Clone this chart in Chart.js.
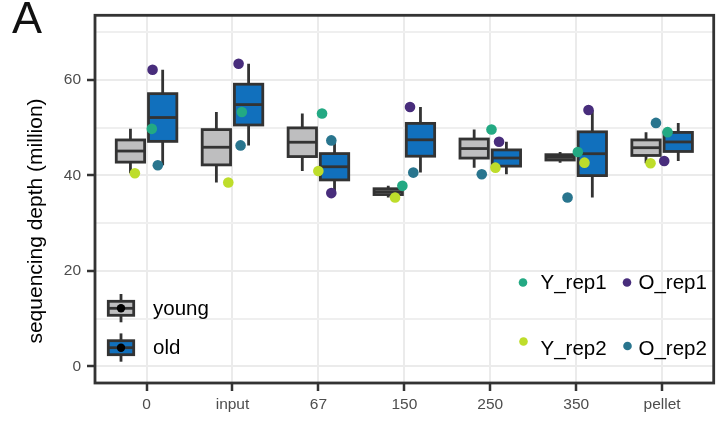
<!DOCTYPE html>
<html>
<head>
<meta charset="utf-8">
<script src="https://cdn.jsdelivr.net/npm/chart.js@4/dist/chart.umd.min.js"></script>
<style>
  html, body { margin: 0; padding: 0; background: #ffffff; }
  #wrap { width: 719px; height: 423px; position: relative; }
</style>
</head>
<body>
<div id="wrap"><canvas id="chart" width="719" height="423"></canvas></div>
<script>
// Fractions (x axis) and sequencing depth in millions per replicate
const categories = ['0', 'input', '67', '150', '250', '350', 'pellet'];
const Y_rep1 = [49.72, 53.26, 52.93, 37.79, 49.59, 44.87, 49.03];
const Y_rep2 = [40.43, 38.48, 40.91, 35.35, 41.60, 42.64, 42.52];
const O_rep1 = [62.09, 63.34, 36.27, 54.30, 47.01, 53.68, 42.99];
const O_rep2 = [42.10, 46.26, 47.30, 40.56, 40.22, 35.35, 50.97];

// Horizontal jitter of each replicate point, in category units
const jitter_Y_rep1 = [0.061, 0.109, 0.042, -0.023, 0.014, 0.019, 0.063];
const jitter_Y_rep2 = [-0.136, -0.049, -0.001, -0.108, 0.060, 0.096, -0.135];
const jitter_O_rep1 = [0.070, 0.071, 0.150, 0.066, 0.102, 0.143, 0.024];
const jitter_O_rep2 = [0.131, 0.094, 0.150, 0.104, -0.099, -0.101, -0.072];

const yMajorTicks = [0, 20, 40, 60];
const yMinorTicks = [10, 30, 50, 70];

const FONT = "'Liberation Sans', Arial, Helvetica, sans-serif";
const LINE = '#333333';
const LINE_W = 2.8;
const GROUPS = [
  { name: 'young', fill: '#BEBEBF', offset: -0.1875, reps: [Y_rep1, Y_rep2] },
  { name: 'old',   fill: '#1170BD', offset:  0.1875, reps: [O_rep1, O_rep2] }
];
const BOX_HALF = 0.165;
const REP_COLORS = { Y_rep1: '#23A983', O_rep1: '#482D7C', Y_rep2: '#BEDD2B', O_rep2: '#29758E' };

// type-7 quantile, as used by R's boxplot stats
function quantile(sorted, p) {
  const h = (sorted.length - 1) * p;
  const lo = Math.floor(h), hi = Math.ceil(h);
  return sorted[lo] + (h - lo) * (sorted[hi] - sorted[lo]);
}
function boxStats(vals) {
  const s = [...vals].sort((a, b) => a - b);
  const q1 = quantile(s, 0.25), med = quantile(s, 0.5), q3 = quantile(s, 0.75);
  const iqr = q3 - q1;
  const lo = s.find(v => v >= q1 - 1.5 * iqr);
  const hi = [...s].reverse().find(v => v <= q3 + 1.5 * iqr);
  return { q1, med, q3, lo, hi };
}

// Box-and-whisker layer drawn under the replicate points
const boxPlugin = {
  id: 'boxes',
  beforeDatasetsDraw(chart) {
    const { ctx, scales: { x, y } } = chart;
    ctx.save();
    ctx.lineWidth = LINE_W;
    ctx.strokeStyle = LINE;
    ctx.lineCap = 'butt';
    categories.forEach((_, i) => {
      GROUPS.forEach(g => {
        const st = boxStats(g.reps.map(r => r[i]));
        const cx = x.getPixelForValue(i + g.offset);
        const left = x.getPixelForValue(i + g.offset - BOX_HALF);
        const right = x.getPixelForValue(i + g.offset + BOX_HALF);
        const yq1 = y.getPixelForValue(st.q1), yq3 = y.getPixelForValue(st.q3);
        const ymed = y.getPixelForValue(st.med);
        // whiskers
        ctx.beginPath();
        ctx.moveTo(cx, y.getPixelForValue(st.hi));
        ctx.lineTo(cx, yq3);
        ctx.moveTo(cx, yq1);
        ctx.lineTo(cx, y.getPixelForValue(st.lo));
        ctx.stroke();
        // box
        ctx.fillStyle = g.fill;
        ctx.fillRect(left, yq3, right - left, yq1 - yq3);
        ctx.strokeRect(left, yq3, right - left, yq1 - yq3);
        // median
        ctx.beginPath();
        ctx.moveTo(left, ymed);
        ctx.lineTo(right, ymed);
        ctx.stroke();
      });
    });
    ctx.restore();
  }
};

// Panel frame, legends, axis title and panel tag
const decorPlugin = {
  id: 'decor',
  afterDraw(chart) {
    const { ctx, chartArea: a } = chart;
    ctx.save();
    ctx.lineWidth = LINE_W;
    ctx.strokeStyle = LINE;
    ctx.strokeRect(a.left, a.top, a.right - a.left, a.bottom - a.top);

    // group legend (box keys)
    const keys = [{ g: GROUPS[0], cy: 308.3, ty: 314.5 }, { g: GROUPS[1], cy: 347.7, ty: 353.5 }];
    keys.forEach(k => {
      const cx = 121;
      ctx.lineWidth = LINE_W;
      ctx.strokeStyle = LINE;
      ctx.beginPath();
      ctx.moveTo(cx, k.cy - 14.3); ctx.lineTo(cx, k.cy + 14);
      ctx.stroke();
      ctx.fillStyle = k.g.fill;
      ctx.fillRect(cx - 12.7, k.cy - 7, 25.4, 14);
      ctx.strokeRect(cx - 12.7, k.cy - 7, 25.4, 14);
      ctx.beginPath();
      ctx.moveTo(cx - 12.7, k.cy); ctx.lineTo(cx + 12.7, k.cy);
      ctx.stroke();
      ctx.fillStyle = '#000000';
      ctx.beginPath(); ctx.arc(cx, k.cy, 4.2, 0, Math.PI * 2); ctx.fill();
      ctx.font = '20.5px ' + FONT;
      ctx.textAlign = 'left';
      ctx.textBaseline = 'alphabetic';
      ctx.fillText(k.g.name, 153, k.ty);
    });

    // replicate legend (point keys)
    const repKeys = [
      { n: 'Y_rep1', dx: 523, dy: 282.5, tx: 540.5, ty: 288.5 },
      { n: 'O_rep1', dx: 627, dy: 282.5, tx: 638.5, ty: 288.5 },
      { n: 'Y_rep2', dx: 523.5, dy: 341.5, tx: 540.5, ty: 354.5 },
      { n: 'O_rep2', dx: 627.5, dy: 346, tx: 638.5, ty: 354.5 }
    ];
    repKeys.forEach(k => {
      ctx.fillStyle = REP_COLORS[k.n];
      ctx.beginPath(); ctx.arc(k.dx, k.dy, 4.3, 0, Math.PI * 2); ctx.fill();
      ctx.fillStyle = '#000000';
      ctx.font = '20.5px ' + FONT;
      ctx.textAlign = 'left';
      ctx.fillText(k.n, k.tx, k.ty);
    });

    // y axis title
    ctx.save();
    ctx.translate(42, 221);
    ctx.rotate(-Math.PI / 2);
    ctx.fillStyle = '#000000';
    ctx.font = '21px ' + FONT;
    ctx.textAlign = 'center';
    ctx.textBaseline = 'alphabetic';
    ctx.fillText('sequencing depth (million)', 0, 0);
    ctx.restore();

    // panel tag
    ctx.fillStyle = '#111111';
    ctx.font = '45px ' + FONT;
    ctx.textAlign = 'left';
    ctx.textBaseline = 'alphabetic';
    ctx.fillText('A', 12, 33);
    ctx.restore();
  }
};

function points(values, jitter) {
  return values.map((v, i) => ({ x: i + jitter[i], y: v }));
}
function repDataset(label, values, jitter) {
  return {
    label,
    data: points(values, jitter),
    backgroundColor: REP_COLORS[label],
    borderColor: REP_COLORS[label],
    pointRadius: 5.3,
    pointHoverRadius: 5.3,
    pointBorderWidth: 0,
    showLine: false
  };
}

new Chart(document.getElementById('chart'), {
  type: 'scatter',
  data: {
    datasets: [
      repDataset('Y_rep2', Y_rep2, jitter_Y_rep2),
      repDataset('Y_rep1', Y_rep1, jitter_Y_rep1),
      repDataset('O_rep2', O_rep2, jitter_O_rep2),
      repDataset('O_rep1', O_rep1, jitter_O_rep1)
    ]
  },
  options: {
    responsive: false,
    animation: false,
    devicePixelRatio: 1,
    layout: { padding: { top: 13.5, right: 4, left: 0, bottom: 0 } },
    plugins: { legend: { display: false }, tooltip: { enabled: false } },
    scales: {
      x: {
        type: 'linear',
        min: -0.6,
        max: 6.6,
        afterBuildTicks: s => { s.ticks = categories.map((_, i) => ({ value: i })); },
        afterFit: s => { s.height = 40; },
        ticks: {
          autoSkip: false,
          maxRotation: 0,
          padding: 4,
          color: '#4D4D4D',
          font: { size: 15.5, family: FONT },
          callback: v => categories[v]
        },
        grid: {
          color: '#EBEBEB',
          lineWidth: 2,
          tickColor: LINE,
          tickLength: 8,
          tickWidth: 2.5
        },
        border: { display: false }
      },
      y: {
        type: 'linear',
        min: -3.5,
        max: 73.5,
        afterBuildTicks: s => {
          s.ticks = [...yMajorTicks, ...yMinorTicks].sort((a, b) => a - b).map(v => ({ value: v }));
        },
        afterFit: s => { s.width = 95; },
        ticks: {
          autoSkip: false,
          padding: 6,
          color: '#4D4D4D',
          font: { size: 15.5, family: FONT },
          callback: v => (yMajorTicks.includes(v) ? String(v) : '')
        },
        grid: {
          color: c => (c.tick && yMajorTicks.includes(c.tick.value) ? '#EBEBEB' : '#EFEFEF'),
          lineWidth: 2,
          tickColor: c => (c.tick && yMajorTicks.includes(c.tick.value) ? LINE : 'rgba(0,0,0,0)'),
          tickLength: 8,
          tickWidth: 2.5
        },
        border: { display: false }
      }
    }
  },
  plugins: [boxPlugin, decorPlugin]
});
</script>
</body>
</html>
